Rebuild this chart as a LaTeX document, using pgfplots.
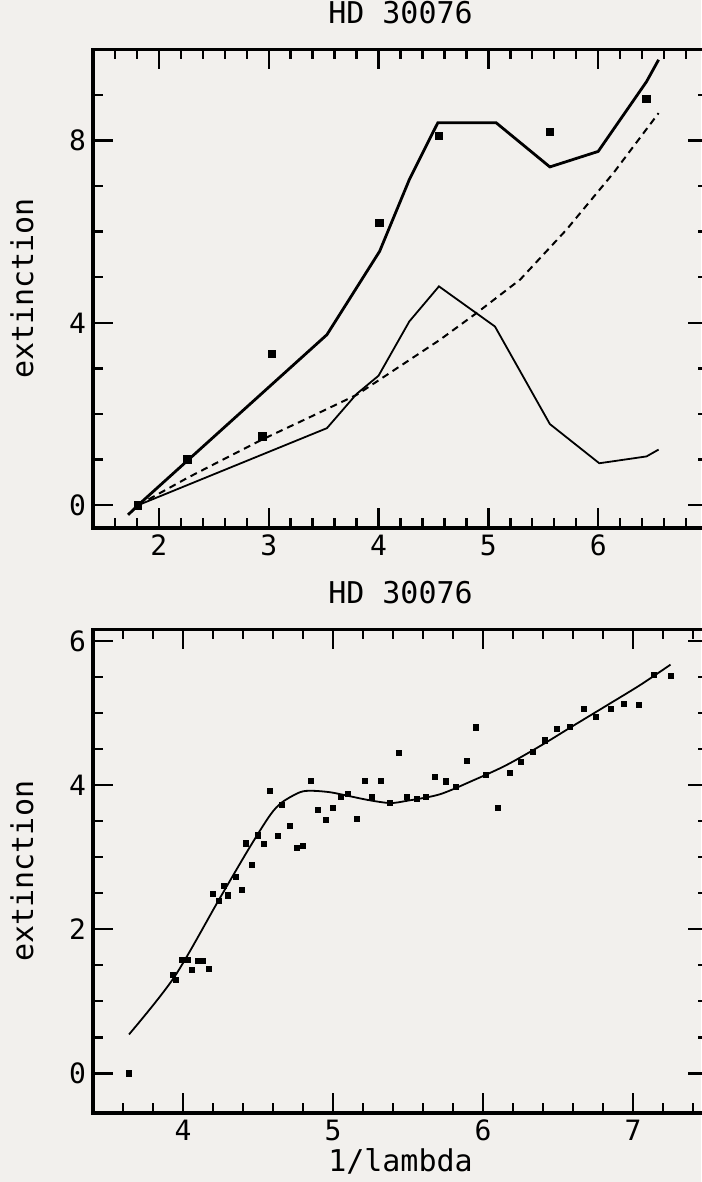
\documentclass[border=0pt]{standalone}
\usepackage{fontspec}
\setmainfont{DejaVu Sans Mono}
\usepackage{pgfplots}
\pgfplotsset{compat=1.18}
\definecolor{paper}{HTML}{F2F0ED}

\pgfplotsset{
  scanplot/.style={
    scale only axis, width=307.5pt, anchor=south west,
    axis line style={line width=1.6pt},
    xtick pos=both, ytick pos=both, tick align=inside,
    xtick style={line width=1.2pt, black},
    ytick style={line width=1.2pt, black},
    major tick length=10pt, minor tick length=5pt,
    /pgf/number format/assume math mode=true,
    tick label style={font=\fontsize{14}{14}\selectfont},
    title style={font=\fontsize{15}{15}\selectfont, at={(axis description cs:0.5,1)}, anchor=south, yshift=3pt},
    ylabel style={font=\fontsize{15}{15}\selectfont, at={(axis description cs:-0.1154,0.5)}, anchor=center},
    xlabel style={font=\fontsize{15}{15}\selectfont, at={(axis description cs:0.5,0)}, anchor=north, yshift=-14.3pt},
  }
}

\begin{document}
\begin{tikzpicture}
\fill[paper] (0,0) rectangle (350.5pt,-591pt);
\useasboundingbox (0,0) rectangle (350.5pt,-591pt);

% upper panel
\begin{axis}[scanplot,
  at={(46.5pt,-264pt)}, height=239.35pt,
  xmin=1.4, xmax=7, ymin=-0.5, ymax=10,
  xtick={2,3,4,5,6}, minor xtick={1.6,1.8,...,6.9},
  ytick={0,4,8}, minor ytick={1,2,3,5,6,7,9},
  title={HD 30076}, ylabel={extinction}]
\addplot[black, line width=1.4pt] coordinates {
 (1.72,-0.21) (1.81,0) (3.53,3.74) (4.01,5.57) (4.28,7.14) (4.54,8.39)
 (5.07,8.39) (5.56,7.42) (6.00,7.76) (6.44,9.29) (6.55,9.77)
};
\addplot[black, line width=0.9pt] coordinates {
 (1.72,-0.21) (1.81,0) (3.53,1.69) (3.80,2.44) (4.00,2.84) (4.28,4.03)
 (4.55,4.80) (5.06,3.92) (5.56,1.78) (6.01,0.92) (6.44,1.07) (6.55,1.22)
};
\addplot[black, line width=1pt, dash pattern=on 3.5pt off 2.5pt] coordinates {
 (1.81,0) (2.26,0.60) (2.94,1.44) (3.40,1.96) (3.80,2.42) (4.19,3.04)
 (4.56,3.63) (4.89,4.21) (5.29,4.95) (5.71,6.04) (6.14,7.29) (6.55,8.60)
};
\addplot[only marks, mark=square*, mark size=1.9pt, black] coordinates {
 (1.81,0) (2.26,1.01) (2.94,1.51) (3.03,3.32) (4.01,6.19) (4.55,8.10)
 (5.56,8.19) (6.44,8.91)
};
\end{axis}

% lower panel
\begin{axis}[scanplot,
  at={(46.5pt,-556.5pt)}, height=241.85pt,
  xmin=3.4, xmax=7.5, ymin=-0.55, ymax=6.16,
  xtick={4,5,6,7}, minor xtick={3.6,3.8,...,7.45},
  ytick={0,2,4,6}, minor ytick={0.5,1,...,5.9},
  title={HD 30076}, ylabel={extinction}, xlabel={1/lambda}]
\addplot[black, line width=0.9pt, smooth, tension=0.5] coordinates {
 (3.64,0.54) (3.94,1.33) (4.24,2.41) (4.44,3.12) (4.58,3.58) (4.66,3.76)
 (4.78,3.90) (4.86,3.92) (4.98,3.90) (5.10,3.85) (5.24,3.79) (5.38,3.75)
 (5.49,3.78) (5.71,3.87) (5.93,4.06) (6.15,4.27) (6.38,4.54) (6.60,4.82)
 (6.83,5.11) (7.05,5.39) (7.25,5.67)
};
\addplot[only marks, mark=square*, mark size=1.3pt, black] coordinates {
 (3.64,0.00)
 (3.93,1.37) (3.95,1.30) (3.99,1.57) (4.03,1.57) (4.06,1.44) (4.10,1.56) (4.13,1.56) (4.17,1.45)
 (4.20,2.49) (4.24,2.39) (4.27,2.60) (4.30,2.47) (4.35,2.73) (4.39,2.54) (4.46,2.89)
 (4.42,3.19) (4.50,3.30) (4.54,3.18) (4.58,3.92) (4.63,3.29) (4.66,3.72) (4.71,3.43) (4.76,3.13) (4.80,3.15)
 (4.85,4.06) (4.90,3.65) (4.95,3.52) (5.00,3.68) (5.05,3.83) (5.10,3.88) (5.16,3.53) (5.21,4.06)
 (5.26,3.83) (5.32,4.06) (5.38,3.75) (5.44,4.45) (5.49,3.84) (5.56,3.81) (5.62,3.84) (5.68,4.11)
 (5.75,4.05) (5.82,3.97)
 (5.89,4.33) (5.95,4.80) (6.02,4.14) (6.10,3.68) (6.18,4.17) (6.25,4.32) (6.33,4.46) (6.41,4.62)
 (6.49,4.78) (6.58,4.81) (6.67,5.06) (6.75,4.95) (6.85,5.06) (6.94,5.12) (7.04,5.11) (7.14,5.53) (7.25,5.51)
};
\end{axis}
\end{tikzpicture}
\end{document}
